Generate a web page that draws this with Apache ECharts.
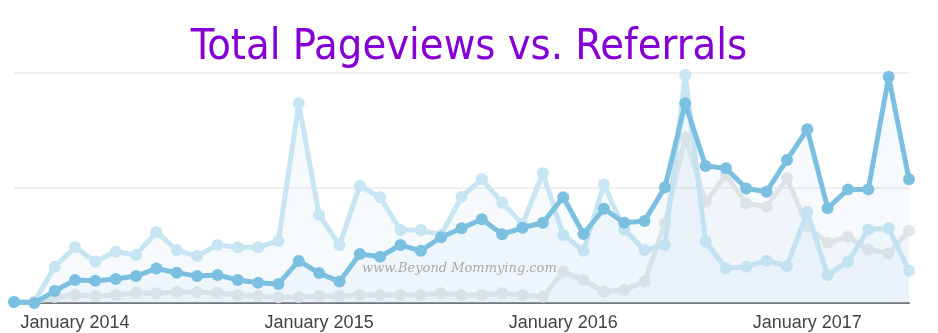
<!DOCTYPE html>
<html>
<head>
<meta charset="utf-8">
<script src="https://cdn.jsdelivr.net/npm/echarts@6/dist/echarts.min.js"></script>
<style>
html,body{margin:0;padding:0;background:#fff;}
#c{width:938px;height:333px;}
</style>
</head>
<body>
<div id="c"></div>
<script>
// Months from October 2013 to June 2017
var months = [
  "October 2013","November 2013","December 2013",
  "January 2014","February 2014","March 2014","April 2014","May 2014","June 2014","July 2014","August 2014","September 2014","October 2014","November 2014","December 2014",
  "January 2015","February 2015","March 2015","April 2015","May 2015","June 2015","July 2015","August 2015","September 2015","October 2015","November 2015","December 2015",
  "January 2016","February 2016","March 2016","April 2016","May 2016","June 2016","July 2016","August 2016","September 2016","October 2016","November 2016","December 2016",
  "January 2017","February 2017","March 2017","April 2017","May 2017","June 2017"
];
// Light blue series (total pageviews)
var pageviews = [0.5,0.5,15.8,24.2,18.0,22.3,20.9,30.9,23.0,20.4,25.2,24.2,24.2,27.0,86.7,
  38.3,25.2,50.9,46.0,31.7,31.7,29.6,46.2,53.9,43.6,34.3,56.4,
  29.6,22.7,51.5,32.0,23.0,25.2,99.1,26.7,15.1,15.8,18.4,16.1,
  39.7,12.2,18.0,32.0,32.5,14.0];
// Medium blue series (referrals)
var referrals = [0.4,0,5.2,10.0,9.7,10.4,11.7,15.0,13.2,11.7,12.2,10.0,8.8,8.3,18.3,
  13.0,9.3,21.3,20.1,25.2,22.7,28.6,32.5,36.4,29.9,32.7,34.9,
  46.0,30.0,41.0,34.9,35.7,50.3,86.8,59.6,58.6,49.8,48.4,62.2,
  75.5,41.2,49.4,49.4,98.4,53.8];
// Faint grey series
var other = [0.4,0.4,2.6,3.5,3.0,3.5,4.5,4.2,4.9,4.7,4.5,3.5,3.0,2.5,2.6,
  3.0,3.0,3.5,3.5,3.5,3.5,4.2,3.5,3.5,4.2,3.5,2.7,
  13.6,10.0,4.9,5.7,9.3,34.7,72.0,44.0,55.7,43.3,41.9,54.2,
  33.2,26.2,28.8,23.3,21.6,31.4];
var yTicks = [0, 50, 100];

var chart = echarts.init(document.getElementById('c'), null, {renderer:'canvas'});
function mk(name, data, color, area, z){
  return {
    name: name, type:'line', data:data, z:z,
    symbol:'circle', symbolSize:12, showSymbol:true,
    lineStyle:{color:color, width:5},
    itemStyle:{color:color},
    areaStyle:{color:area},
    emphasis:{disabled:true},
    animation:false
  };
}
chart.setOption({
  animation:false,
  title:{
    text:'Total Pageviews vs. Referrals',
    left:'center', top:21,
    textStyle:{fontFamily:'"Liberation Sans Narrow","DejaVu Sans Condensed",sans-serif', fontWeight:'normal', fontSize:43, color:'#8400d4'}
  },
  grid:{left:14, right:29, top:73, bottom:30},
  xAxis:{
    type:'category', data:months, boundaryGap:false,
    axisLine:{lineStyle:{color:'#777', width:2}},
    axisTick:{show:false},
    axisLabel:{
      interval:function(i, v){ return v.indexOf('January')===0; },
      color:'#444', fontSize:18, fontFamily:'"Liberation Sans",Arial,sans-serif', margin:11
    }
  },
  yAxis:{
    type:'value', min:yTicks[0], max:yTicks[2], interval:50,
    axisLine:{show:false}, axisTick:{show:false}, axisLabel:{show:false},
    splitLine:{lineStyle:{color:'#efefef', width:2}}
  },
  graphic:[{
    type:'text', left:362, top:262, z:100, silent:true,
    style:{text:'www.Beyond Mommying.com', fill:'#aaaaaa', font:'italic 13px "DejaVu Serif",serif'}
  }],
  series:[
    mk('Other', other, '#e4e7e9', 'rgba(205,215,222,0.18)', 1),
    mk('Pageviews', pageviews, '#c8e5f3', 'rgba(190,222,240,0.2)', 2),
    mk('Referrals', referrals, '#7cc0e1', 'rgba(150,200,230,0.12)', 3)
  ]
});
</script>
</body>
</html>
